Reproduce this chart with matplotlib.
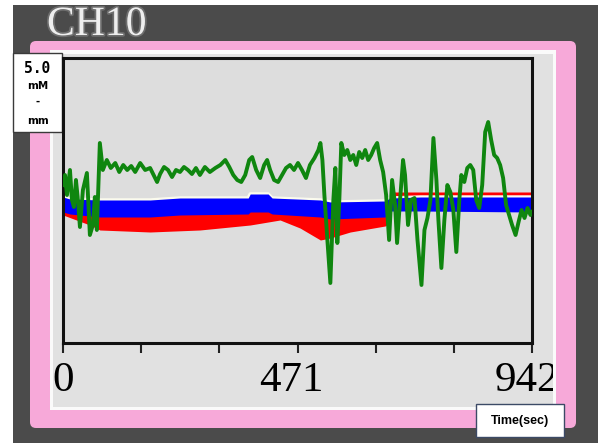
import matplotlib
matplotlib.use('Agg')
import matplotlib.pyplot as plt
from matplotlib.patches import Rectangle, FancyBboxPatch
from matplotlib import patheffects, transforms

# elapsed time (sec) and signal change (mM-mm) for the three traces
green_t = [0, 4, 8, 14, 18, 22, 26, 30, 34, 40,
           48, 54, 60, 64, 68, 74, 80, 88, 96, 105,
           113, 121, 129, 137, 145, 155, 165, 175, 183, 189,
           195, 203, 211, 219, 227, 235, 243, 251, 259, 267,
           275, 285, 295, 306, 316, 326, 334, 342, 350, 358,
           366, 374, 380, 388, 396, 404, 410, 416, 424, 432,
           440, 448, 456, 464, 472, 480, 488, 496, 505, 513,
           517, 521, 525, 531, 537, 543, 547, 551, 555, 559,
           565, 571, 577, 583, 589, 595, 601, 607, 613, 619,
           625, 631, 637, 643, 649, 655, 661, 667, 671, 677,
           683, 687, 693, 699, 706, 712, 720, 726, 732, 738,
           744, 750, 754, 760, 766, 772, 778, 784, 790, 796,
           800, 806, 812, 818, 824, 830, 836, 842, 848, 854,
           860, 866, 872, 878, 884, 890, 896, 902, 909, 915,
           921, 927, 933, 939, 942]
green_v = [0.31, 0.51, 0.11, 0.61, 0.01, -0.13, 0.41, 0.01, -0.53, 0.21,
           0.55, -0.69, -0.49, 0.07, -0.59, 1.15, 0.61, 0.81, 0.65, 0.75,
           0.57, 0.71, 0.61, 0.69, 0.57, 0.75, 0.61, 0.65, 0.49, 0.37,
           0.53, 0.67, 0.61, 0.47, 0.61, 0.57, 0.67, 0.61, 0.53, 0.65,
           0.51, 0.67, 0.57, 0.65, 0.71, 0.81, 0.67, 0.51, 0.41, 0.37,
           0.51, 0.81, 0.87, 0.61, 0.45, 0.71, 0.81, 0.61, 0.41, 0.37,
           0.51, 0.65, 0.71, 0.61, 0.75, 0.61, 0.45, 0.71, 0.85, 1.01,
           1.15, 0.81, 0.11, -0.79, -1.65, 0.01, 0.65, -0.85, 0.01, 1.15,
           0.91, 1.01, 0.81, 0.91, 0.71, 0.97, 0.85, 1.01, 0.81, 0.91,
           1.05, 1.15, 0.81, 0.57, 0.11, -0.79, 0.41, -0.09, -0.85, 0.01,
           0.81, 0.51, -0.49, 0.01, 0.05, -0.79, -1.69, -0.59, -0.35, 0.01,
           1.25, 0.41, -0.39, -1.35, -0.39, 0.31, 0.17, -0.19, -1.03, 0.01,
           0.51, 0.37, 0.65, 0.71, 0.61, 0.01, -0.15, 0.31, 1.37, 1.57,
           1.21, 0.91, 0.85, 0.71, 0.45, -0.09, -0.29, -0.49, -0.69, -0.43,
           -0.19, -0.35, -0.15, -0.29, -0.23]

blue_t = [0, 14, 74, 175, 235, 372, 376, 412, 420, 517, 537, 647, 657, 718, 939, 942]
blue_hi = [0.07, 0.03, 0.01, 0.01, 0.05, 0.05, 0.13, 0.13, 0.05, 0.01,
           -0.03, -0.01, 0.05, 0.07, 0.07, 0.07]
blue_lo = [-0.23, -0.27, -0.33, -0.33, -0.29, -0.27, -0.23, -0.23, -0.27, -0.33,
           -0.37, -0.33, -0.21, -0.21, -0.23, -0.23]

red_t = [0, 54, 74, 175, 275, 376, 436, 476, 517, 537, 577, 647, 653, 657, 942]
red_hi = [0.01, -0.19, -0.19, -0.23, -0.23, -0.19, -0.15, -0.19, -0.23, -0.23,
          -0.23, -0.19, -0.15, 0.17, 0.17]
red_lo = [-0.29, -0.49, -0.59, -0.63, -0.59, -0.49, -0.39, -0.55, -0.79, -0.75,
          -0.63, -0.51, -0.47, -0.03, -0.03]

x_ticks = [0, 157, 314, 471, 628, 785, 942]
x_labels = ['0', '', '', '471', '', '', '942']
channel = 'CH10'
scale_lines = ['5.0', 'mM', '-', 'mm']
x_title = 'Time(sec)'

W, H = 598, 443
fig = plt.figure(figsize=(W / 100, H / 100), dpi=100, facecolor='#4b4b4b')

# background frame drawn in pixel units
deco = fig.add_axes([0, 0, 1, 1], zorder=0)
deco.set_xlim(0, W)
deco.set_ylim(H, 0)
deco.axis('off')
deco.add_patch(Rectangle((0, 0), W, 5, fc='white', ec='none', zorder=3))
deco.add_patch(Rectangle((0, 0), 13, H, fc='white', ec='none', zorder=3))
deco.add_patch(FancyBboxPatch((30, 41), 546, 387,
                              boxstyle='round,pad=0,rounding_size=6',
                              fc='#f7a9d9', ec='none'))
deco.add_patch(Rectangle((50, 50), 506, 360, fc='#fafafa', ec='none'))
panel = Rectangle((53, 54), 500, 353, fc='#e1e1e1', ec='none')
deco.add_patch(panel)

deco.text(47, 35, channel, fontsize=30, family='Liberation Serif',
          color='#eeeeee', va='baseline', ha='left', zorder=2,
          path_effects=[patheffects.withStroke(linewidth=2.5, foreground='#6e6e6e')])

# scale box at the upper left
deco.add_patch(Rectangle((13, 53), 49, 79, fc='white', ec='#3a3a3a', lw=1, zorder=4))
deco.text(37.5, 68, scale_lines[0], fontsize=10.5, family='DejaVu Sans Mono',
          weight='bold', ha='center', va='center', zorder=5)
deco.text(37.5, 86, scale_lines[1], fontsize=7.5, family='DejaVu Sans',
          weight='bold', ha='center', va='center', zorder=5)
deco.text(37.5, 102, scale_lines[2], fontsize=7.5, family='DejaVu Sans',
          weight='bold', ha='center', va='center', zorder=5)
deco.text(37.5, 121, scale_lines[3], fontsize=7.5, family='DejaVu Sans',
          weight='bold', ha='center', va='center', zorder=5)

# axis title box at the lower right
deco.add_patch(Rectangle((476, 404), 88, 33, fc='white', ec='#3c4a66', lw=1, zorder=4))
deco.text(520, 421, x_title, fontsize=9, family='Liberation Sans', weight='bold',
          ha='center', va='center', zorder=5)

# trace plot
ax = fig.add_axes([63 / W, (H - 343) / H, 469 / W, 285 / H], zorder=1)
ax.set_facecolor('#dddddd')
ax.fill_between(red_t, red_lo, red_hi, color='#ff0000', lw=0, zorder=1)
ax.plot(blue_t, blue_hi, color='#fbfbee', lw=2.5, zorder=1.5)
ax.fill_between(blue_t, blue_lo, blue_hi, color='#0000ff', lw=0, zorder=2)
ax.plot(green_t, green_v, color='#0f860f', lw=2.8, zorder=3)

ax.set_xlim(0, 942)
ax.set_ylim(-2.85, 2.85)
ax.set_yticks([])
ax.set_xticks(x_ticks, x_labels)
ax.tick_params(axis='x', length=7, width=1.5, color='#222222', pad=6, labelsize=31)
# nudge the tick numbers a little to the left, as the instrument software does
label_shift_px = {'0': 0, '471': -6, '942': -5}
for lbl in ax.get_xticklabels():
    lbl.set_fontfamily('Liberation Serif')
    dx = label_shift_px.get(lbl.get_text(), 0)
    lbl.set_transform(lbl.get_transform()
                      + transforms.ScaledTranslation(dx / 100, 0, fig.dpi_scale_trans))
    lbl.set_clip_path(panel)
for s in ax.spines.values():
    s.set_linewidth(2.2)
    s.set_color('#111111')

fig.savefig('out.png', dpi=100, facecolor=fig.get_facecolor())
